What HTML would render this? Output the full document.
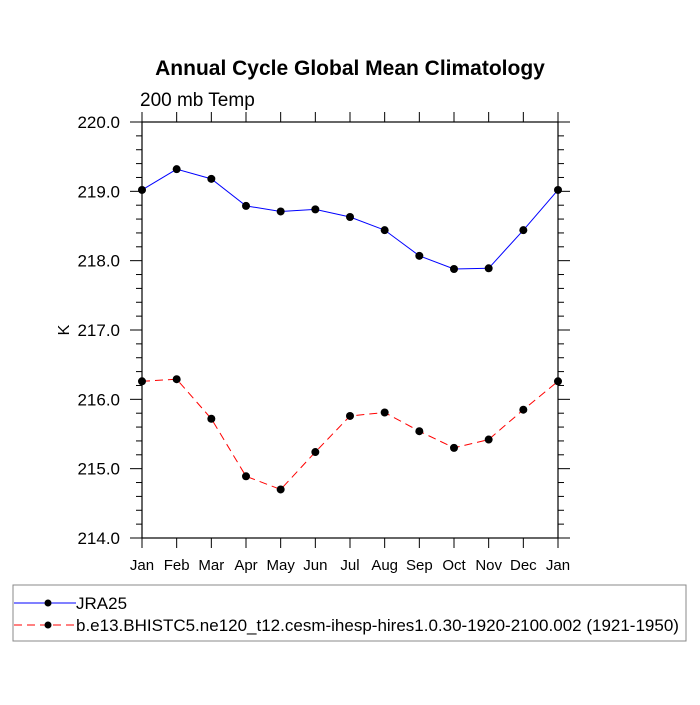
<!DOCTYPE html>
<html><head><meta charset="utf-8"><style>
body{margin:0;background:#fff;}
svg text{font-family:"Liberation Sans",sans-serif;fill:#000;}
</style></head><body>
<svg id="chart" width="700" height="700">
<text x="350" y="75" text-anchor="middle" font-size="21" font-weight="bold">Annual Cycle Global Mean Climatology</text>
<text x="140" y="106" font-size="19">200 mb Temp</text>
<text transform="translate(69,330) rotate(-90)" text-anchor="middle" font-size="16">K</text>
<g id="axes"></g>
<g id="series"></g>
<rect x="13" y="585" width="673" height="56" fill="none" stroke="#888" stroke-width="1"/>
<g>
<line x1="14" y1="603" x2="76" y2="603" stroke="#0000ff" stroke-width="1"/>
<circle cx="48" cy="603" r="3.5" fill="#000"/>
<text x="76" y="609" font-size="17">JRA25</text>
</g>
<g>
<line x1="14" y1="625" x2="76" y2="625" stroke="#ff0000" stroke-width="1" stroke-dasharray="8,5"/>
<circle cx="48" cy="625" r="3.5" fill="#000"/>
<text x="76" y="631" font-size="17">b.e13.BHISTC5.ne120_t12.cesm-ihesp-hires1.0.30-1920-2100.002 (1921-1950)</text>
</g>
</svg>
<script>
const months = ["Jan","Feb","Mar","Apr","May","Jun","Jul","Aug","Sep","Oct","Nov","Dec","Jan"];
const jra25 = [219.02,219.32,219.18,218.79,218.71,218.74,218.63,218.44,218.07,217.88,217.89,218.44,219.02];
const cesm = [216.26,216.29,215.72,214.89,214.70,215.24,215.76,215.81,215.54,215.30,215.42,215.85,216.26];
const yTicks = ["214.0","215.0","216.0","217.0","218.0","219.0","220.0"];
const L=142,R=558,T=122,B=538,ymin=214,ymax=220;
const xs=i=>L+(R-L)*i/(months.length-1);
const ys=v=>B-(v-ymin)/(ymax-ymin)*(B-T);
const NS="http://www.w3.org/2000/svg";
function mk(tag,attrs,parent){const e=document.createElementNS(NS,tag);for(const k in attrs)e.setAttribute(k,attrs[k]);parent.appendChild(e);return e;}
const ax=document.getElementById('axes');
const frame=mk('rect',{x:L,y:T,width:R-L,height:B-T,fill:'none',stroke:'#000','stroke-width':1.2},ax);


months.forEach((m,i)=>{
  const x=xs(i);
  mk('line',{x1:x,y1:B,x2:x,y2:B+10,stroke:'#000'},ax);
  mk('line',{x1:x,y1:T,x2:x,y2:T-10,stroke:'#000'},ax);
  const t=mk('text',{x:x,y:B+32,'text-anchor':'middle','font-size':15},ax);
  t.textContent=m;
  
  
});
for(let k=0;k<=30;k++){
  const v=ymin+k*0.2,y=ys(v),major=k%5===0,len=major?12:6;
  mk('line',{x1:L,y1:y,x2:L-len,y2:y,stroke:'#000'},ax);
  mk('line',{x1:R,y1:y,x2:R+len,y2:y,stroke:'#000'},ax);
}
yTicks.forEach(s=>{
  const t=mk('text',{x:L-22,y:ys(parseFloat(s))+6,'text-anchor':'end','font-size':17},ax);
  t.textContent=s;
  
  
});
const sg=document.getElementById('series');
function draw(vals,color,dash,name){
  const g=mk('g',{},sg);
  
  
  const pts=vals.map((v,i)=>xs(i)+','+ys(v)).join(' ');
  const attrs={points:pts,fill:'none',stroke:color,'stroke-width':1};
  if(dash)attrs['stroke-dasharray']=dash;
  mk('polyline',attrs,g);
  vals.forEach((v,i)=>{
    const c=mk('circle',{cx:xs(i),cy:ys(v),r:4,fill:'#000'},g);
    
    
  });
}
draw(jra25,'#0000ff',null,'series-jra25');
draw(cesm,'#ff0000','8,5','series-cesm');
</script>
</body></html>
